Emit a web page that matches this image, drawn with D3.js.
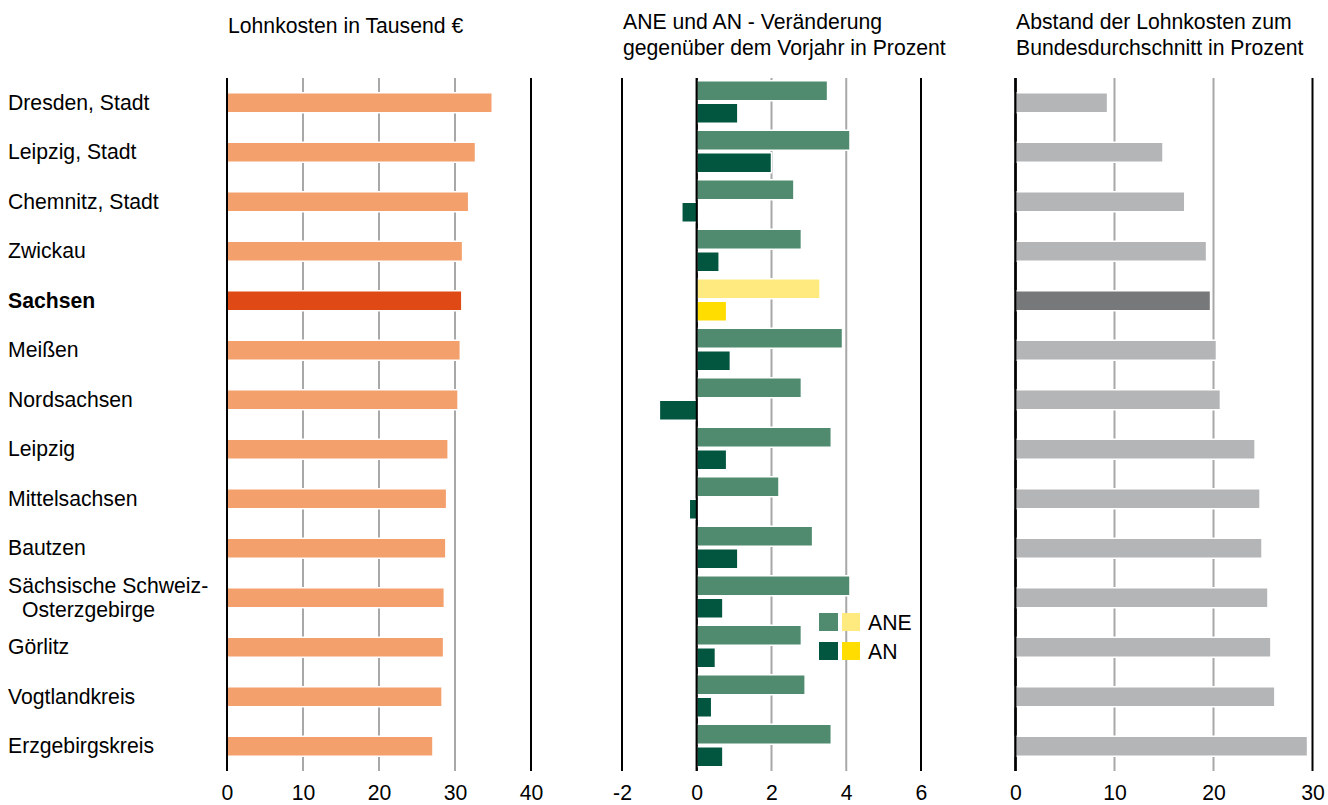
<!DOCTYPE html>
<html>
<head>
<meta charset="utf-8">
<script src="https://cdn.jsdelivr.net/npm/d3@7"></script>
<style>
  body { margin: 0; background: #fff; }
  text { font-family: "Liberation Sans", Arial, sans-serif; fill: #000; }
</style>
</head>
<body>
<script>

// Kreise in Sachsen, Reihenfolge wie im Bild
var regions = ["Dresden, Stadt","Leipzig, Stadt","Chemnitz, Stadt","Zwickau","Sachsen","Meißen",
  "Nordsachsen","Leipzig","Mittelsachsen","Bautzen","Sächsische Schweiz-Osterzgebirge",
  "Görlitz","Vogtlandkreis","Erzgebirgskreis"];

// Lohnkosten in Tausend €
var lohnkosten = [34.9,32.7,31.8,31.0,30.9,30.7,30.4,29.1,28.9,28.8,28.6,28.5,28.3,27.1];
// Veränderung gegenüber Vorjahr in %
var ane = [3.5,4.1,2.6,2.8,3.3,3.9,2.8,3.6,2.2,3.1,4.1,2.8,2.9,3.6];
var an  = [1.1,2.0,-0.4,0.6,0.8,0.9,-1.0,0.8,-0.2,1.1,0.7,0.5,0.4,0.7];
// Abstand zum Bundesdurchschnitt in %
var abstand = [9.3,14.9,17.1,19.3,19.7,20.3,20.7,24.2,24.7,24.9,25.5,25.8,26.2,29.5];

var ticks1 = [0,10,20,30,40];
var ticks2 = [-2,0,2,4,6];
var ticks3 = [0,10,20,30];

var highlight = "Sachsen";

var W = 1328, H = 805;
var yTop = 78, yBottom = 771;
var fs = "21.2px";

var svg = d3.select("body").append("svg")
    .attr("width", W)
    .attr("height", H);

var y = d3.scaleBand().domain(regions).range([yTop, yBottom]);

var x1 = d3.scaleLinear().domain([0,40]).range([227,531]);
var x2 = d3.scaleLinear().domain([-2,6]).range([622,921]);
var x3 = d3.scaleLinear().domain([0,30]).range([1015.5,1312.5]);

function drawGrid(x, ticks, blackAt){
    svg.append("g").selectAll("line")
        .data(ticks)
        .enter().append("line")
        .attr("x1", function(d){ return x(d); })
        .attr("x2", function(d){ return x(d); })
        .attr("y1", yTop)
        .attr("y2", yBottom)
        .attr("stroke", function(d){ return blackAt.indexOf(d) >= 0 ? "#000" : "#a8a8a8"; })
        .attr("stroke-width", 2);

    // Beschriftung unten
    var ax = d3.axisBottom(x).tickValues(ticks).tickSize(0).tickPadding(0)
        .tickFormat(function(d){ return String(d); });
    var g = svg.append("g")
        .attr("transform", "translate(0," + 800 + ")")
        .call(ax);
    g.select(".domain").remove();
    g.selectAll("text")
        .attr("dy", 0)
        .attr("y", 0)
        .style("font-size", fs)
        .style("font-family", "'Liberation Sans', Arial, sans-serif")
        .attr("fill", "#000");
}

// Titel
function title(x, lines){
    var t = svg.append("text").attr("x", x).attr("y", lines.length > 1 ? 29 : 33)
        .style("font-size", fs);
    lines.forEach(function(l, i){
        t.append("tspan").attr("x", x).attr("dy", i == 0 ? 0 : 26).text(l);
    });
}
title(228, ["Lohnkosten in Tausend €"]);
title(623, ["ANE und AN - Veränderung", "gegenüber dem Vorjahr in Prozent"]);
title(1016, ["Abstand der Lohnkosten zum", "Bundesdurchschnitt in Prozent"]);

// Zeilenbeschriftung
regions.forEach(function(r){
    var c = y(r) + y.bandwidth()/2;
    var t = svg.append("text")
        .style("font-size", fs)
        .style("font-weight", r == highlight ? "bold" : "normal");
    if (r.indexOf("-") > 0){
        var parts = r.split("-");
        t.append("tspan").attr("x", 8).attr("y", c - 5).text(parts[0] + "-");
        t.append("tspan").attr("x", 22).attr("y", c + 19).text(parts[1]);
    } else {
        t.attr("x", 8).attr("y", c + 7).text(r);
    }
});

drawGrid(x1, ticks1, [0,40]);
drawGrid(x2, ticks2, [-2,0,6]);
drawGrid(x3, ticks3, [0,30]);

// Panel 1
svg.append("g").selectAll("rect")
    .data(lohnkosten)
    .enter().append("rect")
    .attr("x", x1(0))
    .attr("y", function(d,i){ return y(regions[i]) + y.bandwidth()/2 - 10; })
    .attr("width", function(d){ return x1(d) - x1(0); })
    .attr("height", 20)
    .attr("fill", function(d,i){ return regions[i] == highlight ? "#de4915" : "#f3a06c"; })
    .attr("stroke", "#fff")
    .attr("stroke-width", 1.5);

// Panel 2
svg.append("g").selectAll("rect")
    .data(ane)
    .enter().append("rect")
    .attr("x", function(d){ return x2(Math.min(0,d)); })
    .attr("y", function(d,i){ return y(regions[i]) + y.bandwidth()/2 - 22; })
    .attr("width", function(d){ return Math.abs(x2(d) - x2(0)); })
    .attr("height", 20)
    .attr("fill", function(d,i){ return regions[i] == highlight ? "#ffea80" : "#508b70"; })
    .attr("stroke", "#fff")
    .attr("stroke-width", 1.5);

svg.append("g").selectAll("rect")
    .data(an)
    .enter().append("rect")
    .attr("x", function(d){ return x2(Math.min(0,d)); })
    .attr("y", function(d,i){ return y(regions[i]) + y.bandwidth()/2 + 0.5; })
    .attr("width", function(d){ return Math.abs(x2(d) - x2(0)); })
    .attr("height", 20)
    .attr("fill", function(d,i){ return regions[i] == highlight ? "#ffdd00" : "#02553f"; })
    .attr("stroke", "#fff")
    .attr("stroke-width", 1.5);

// Nulllinien wieder oben drauf
[x1, x2, x3].forEach(function(x){
    svg.append("line")
        .attr("x1", x(0)).attr("x2", x(0))
        .attr("y1", yTop).attr("y2", yBottom)
        .attr("stroke", "#000").attr("stroke-width", 2);
});

// Legende
var legend = [["ANE","#508b70","#ffea80"],["AN","#02553f","#ffdd00"]];
legend.forEach(function(l, i){
    var ly = 613 + i*29;
    svg.append("rect").attr("x", 819).attr("y", ly).attr("width", 19).attr("height", 18).attr("fill", l[1]);
    svg.append("rect").attr("x", 842).attr("y", ly).attr("width", 18).attr("height", 18).attr("fill", l[2]);
    svg.append("text").attr("x", 868).attr("y", ly + 17).style("font-size", fs).text(l[0]);
});

// Panel 3
svg.append("g").selectAll("rect")
    .data(abstand)
    .enter().append("rect")
    .attr("x", x3(0))
    .attr("y", function(d,i){ return y(regions[i]) + y.bandwidth()/2 - 10; })
    .attr("width", function(d){ return x3(d) - x3(0); })
    .attr("height", 20)
    .attr("fill", function(d,i){ return regions[i] == highlight ? "#77787a" : "#b4b5b7"; })
    .attr("stroke", "#fff")
    .attr("stroke-width", 1.5);

svg.append("line")
    .attr("x1", x3(0)).attr("x2", x3(0))
    .attr("y1", yTop).attr("y2", yBottom)
    .attr("stroke", "#000").attr("stroke-width", 2);

</script>
</body>
</html>
